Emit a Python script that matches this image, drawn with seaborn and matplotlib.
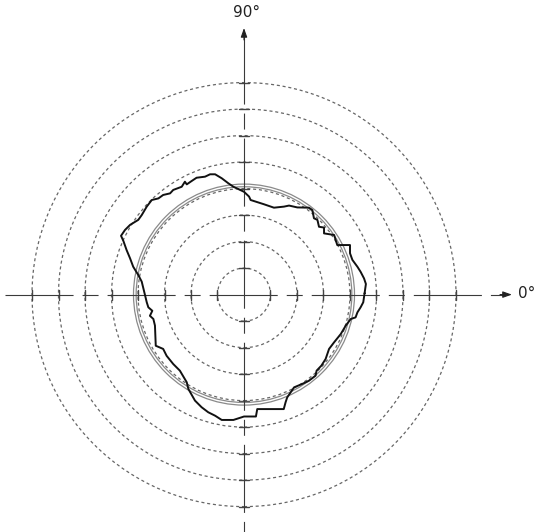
import matplotlib
matplotlib.use("Agg")
import matplotlib.pyplot as plt
from matplotlib.patches import Circle
import numpy as np
import pandas as pd
import seaborn as sns

sns.set_theme(style="white")
plt.rcParams["font.family"] = ["DejaVu Sans"]
plt.rcParams["lines.scale_dashes"] = False

# concentric reference rings (in grid units) and the two fitted circles
ring_radii = [1, 2, 3, 4, 5, 6, 7, 8]
fit_radii = [4.07, 4.17]

# measured roundness profile, traced counter-clockwise from 0 deg
profile_x = [4.55, 4.60, 4.53, 4.40, 4.28, 4.09, 4.00, 4.00, 3.52, 3.46, 3.40, 3.02,
             3.02, 2.83, 2.77, 2.64, 2.58, 2.45, 2.01, 1.70, 1.51, 1.13, 0.75, 0.25,
             0.19, 0.00, -0.40, -0.59, -0.84, -1.09, -1.28, -1.47, -1.79, -1.97, -2.16,
             -2.23, -2.35, -2.67, -2.79, -3.05, -3.23, -3.48, -3.67, -3.86, -3.99, -4.30,
             -4.49, -4.64, -4.55, -4.43, -4.30, -4.18, -3.99, -3.86, -3.74, -3.67, -3.61,
             -3.46, -3.55, -3.42, -3.36, -3.33, -3.05, -2.92, -2.67, -2.42, -2.16, -2.10,
             -1.85, -1.60, -1.35, -1.09, -0.84, -0.40, -0.09, 0.00, 0.45, 0.50, 1.50,
             1.57, 1.63, 1.76, 1.89, 2.20, 2.45, 2.70, 2.74, 2.92, 3.08, 3.21, 3.40,
             3.65, 3.84, 4.03, 4.21, 4.28, 4.40, 4.50]
profile_y = [0.05, 0.40, 0.61, 0.86, 1.05, 1.31, 1.56, 1.87, 1.87, 2.06, 2.25, 2.31,
             2.53, 2.56, 2.82, 2.88, 3.19, 3.28, 3.29, 3.36, 3.32, 3.28, 3.41, 3.57,
             3.70, 3.88, 4.07, 4.20, 4.39, 4.54, 4.54, 4.45, 4.41, 4.29, 4.16,
             4.26, 4.07, 3.95, 3.82, 3.76, 3.63, 3.57, 3.32, 3.00, 2.82, 2.63,
             2.44, 2.22, 2.02, 1.68, 1.37, 1.05, 0.74, 0.49, 0.00, -0.29, -0.48,
             -0.61, -0.80, -0.92, -1.17, -1.93, -2.05, -2.31, -2.62, -2.87, -3.31, -3.56,
             -4.00, -4.25, -4.44, -4.57, -4.73, -4.73, -4.63, -4.60, -4.60, -4.32, -4.32,
             -4.06, -3.88, -3.69, -3.50, -3.37, -3.25, -3.06, -2.87, -2.68, -2.43, -2.05, -1.80,
             -1.49, -1.17, -0.92, -0.86, -0.67, -0.48, -0.29]

axis_labels = ["0°", "90°"]

# pixel geometry of the reference
W, H = 534, 532
cx, cy, unit = 244, 294.6, 26.5

fig = plt.figure(figsize=(W / 100, H / 100), dpi=100)
ax = fig.add_axes([0, 0, 1, 1])

for r in ring_radii:
    ax.add_patch(Circle((0, 0), r, fill=False, ec="#666666", lw=0.9,
                        ls=(0, (2.2, 2.0)), zorder=1))
    # short solid ticks where the rings cross the axes
    t = 0.19
    for sx in (r, -r):
        ax.plot([sx, sx], [-t, t], color="#444444", lw=1.0, zorder=2)
    for sy in (r, -r):
        ax.plot([-t, t], [sy, sy], color="#444444", lw=1.0, zorder=2)

for r in fit_radii:
    ax.add_patch(Circle((0, 0), r, fill=False, ec="#8a8a8a", lw=0.9, zorder=2))

# center lines with arrows
dash = (0, (49, 6.5, 11.5, 6.5))
x_left, x_tip = -9.02, 10.11
y_bot, y_tip = -9.2, 10.06
ax.plot([x_left, x_tip - 0.3], [0, 0], color="#3a3a3a", lw=0.8, ls=dash, zorder=2)
ax.plot([0, 0], [y_tip - 0.3, y_bot], color="#3a3a3a", lw=0.8, ls=dash, zorder=2)
arrow = dict(arrowstyle="-|>,head_length=0.45,head_width=0.16", color="#222222",
             lw=0.8, shrinkA=0, shrinkB=0)
ax.annotate("", xy=(x_tip, 0), xytext=(x_tip - 0.45, 0), arrowprops=arrow)
ax.annotate("", xy=(0, y_tip), xytext=(0, y_tip - 0.45), arrowprops=arrow)

ax.text(x_tip + 0.22, 0.05, axis_labels[0], fontsize=11, color="#222222",
        ha="left", va="center")
ax.text(0.08, 10.66, axis_labels[1], fontsize=11, color="#222222",
        ha="center", va="center")

df = pd.DataFrame({"x": profile_x + profile_x[:1], "y": profile_y + profile_y[:1]})
df["order"] = np.arange(len(df))
sns.lineplot(data=df, x="x", y="y", sort=False, estimator=None, color="#111111",
             lw=1.4, ax=ax, zorder=3)
ax.set_xlim(-cx / unit, (W - cx) / unit)
ax.set_ylim(-(H - cy) / unit, cy / unit)
ax.axis("off")

fig.savefig("out.png", dpi=100)
